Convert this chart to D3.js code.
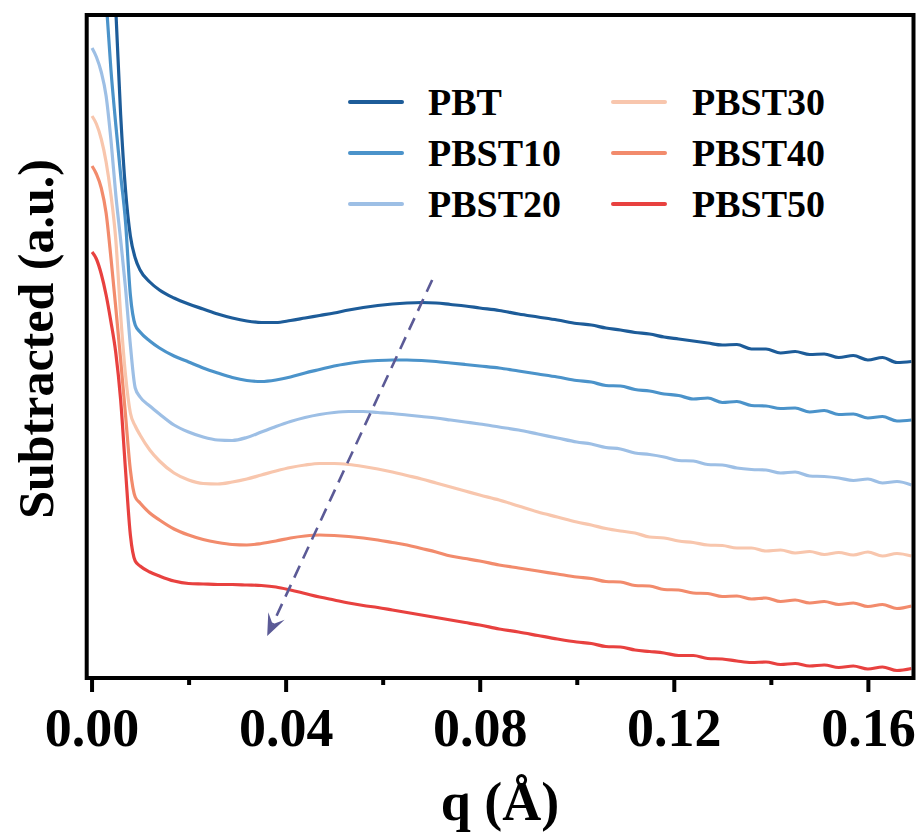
<!DOCTYPE html>
<html>
<head>
<meta charset="utf-8">
<script src="https://cdn.jsdelivr.net/npm/d3@7"></script>
<style>
  html, body { margin: 0; padding: 0; background: #ffffff; }
  svg { display: block; }
  text { font-family: "Liberation Serif", "Times New Roman", serif; font-weight: bold; fill: #000; }
</style>
</head>
<body>
<div id="chart"></div>
<script>
// Scattering vector q (Å) shared by all profiles
const qValues = [
  0.0001, 0.001, 0.002, 0.003, 0.004, 0.005, 0.006, 0.007, 0.008, 0.009, 0.010,
  0.012, 0.014, 0.017,
  0.020, 0.023, 0.026, 0.029, 0.032, 0.035, 0.038, 0.041, 0.044, 0.047, 0.050,
  0.053, 0.056, 0.059, 0.062, 0.065, 0.068, 0.071, 0.074, 0.077, 0.080,
  0.084, 0.088, 0.092, 0.096, 0.100,
  0.103, 0.106, 0.109, 0.112, 0.115, 0.118, 0.121, 0.124, 0.127, 0.130, 0.133,
  0.136, 0.139, 0.142, 0.145, 0.148, 0.151, 0.154, 0.157, 0.160, 0.163, 0.166, 0.169
];

// Subtracted intensity (a.u., stacked profiles)
const iPBT = [
  11.48, 10.58, 9.58, 8.58, 7.58, 6.68, 5.63, 4.88, 4.42, 4.20, 4.08,
  3.96, 3.88, 3.80,
  3.74, 3.69, 3.64, 3.60, 3.57, 3.555, 3.555, 3.575, 3.60, 3.625, 3.65,
  3.68, 3.705, 3.725, 3.74, 3.75, 3.755, 3.75, 3.735, 3.72, 3.70,
  3.675, 3.64, 3.61, 3.58, 3.545,
  3.53, 3.50, 3.48, 3.455, 3.44, 3.41, 3.39, 3.37, 3.35, 3.33, 3.335,
  3.29, 3.29, 3.25, 3.265, 3.235, 3.24, 3.205, 3.225, 3.18, 3.205, 3.155, 3.165
];
const iPBST10 = [
  9.18, 8.38, 7.58, 6.78, 6.08, 5.53, 5.03, 4.56, 3.83, 3.53, 3.46,
  3.37, 3.30, 3.22,
  3.16, 3.10, 3.05, 3.005, 2.975, 2.965, 2.98, 3.01, 3.05, 3.085, 3.12,
  3.145, 3.165, 3.175, 3.18, 3.18, 3.175, 3.165, 3.15, 3.135, 3.12,
  3.10, 3.07, 3.04, 3.01, 2.975,
  2.96, 2.925, 2.92, 2.885, 2.87, 2.84, 2.825, 2.79, 2.80, 2.755, 2.765,
  2.725, 2.72, 2.695, 2.70, 2.66, 2.675, 2.635, 2.64, 2.60, 2.615, 2.57, 2.58
];
const iPBST20 = [
  6.30, 6.21, 6.06, 5.82, 5.38, 4.83, 4.38, 3.90, 3.33, 2.90, 2.81,
  2.72, 2.64, 2.53,
  2.46, 2.41, 2.38, 2.375, 2.405, 2.46, 2.515, 2.565, 2.605, 2.635, 2.655,
  2.665, 2.665, 2.655, 2.645, 2.63, 2.615, 2.60, 2.58, 2.56, 2.54,
  2.51, 2.48, 2.44, 2.40, 2.36,
  2.34, 2.305, 2.29, 2.25, 2.235, 2.21, 2.175, 2.17, 2.135, 2.13, 2.10,
  2.085, 2.08, 2.05, 2.06, 2.02, 2.015, 2.00, 1.975, 1.99, 1.95, 1.965, 1.93
];
const iPBST30 = [
  5.62, 5.54, 5.39, 5.16, 4.83, 4.38, 3.63, 3.03, 2.65, 2.52, 2.43,
  2.28, 2.17, 2.05,
  1.98, 1.945, 1.94, 1.96, 1.99, 2.03, 2.07, 2.105, 2.13, 2.145, 2.145,
  2.135, 2.115, 2.09, 2.06, 2.025, 1.99, 1.95, 1.91, 1.87, 1.83,
  1.78, 1.72, 1.66, 1.61, 1.56,
  1.53, 1.495, 1.47, 1.45, 1.41, 1.40, 1.37, 1.355, 1.33, 1.325, 1.30,
  1.30, 1.27, 1.28, 1.25, 1.265, 1.235, 1.255, 1.23, 1.26, 1.22, 1.245, 1.22
];
const iPBST40 = [
  5.12, 5.04, 4.90, 4.65, 4.20, 3.70, 3.18, 2.63, 2.08, 1.81, 1.75,
  1.65, 1.58, 1.49,
  1.43, 1.385, 1.355, 1.335, 1.33, 1.345, 1.37, 1.40, 1.42, 1.43, 1.425,
  1.415, 1.40, 1.38, 1.355, 1.33, 1.295, 1.26, 1.22, 1.195, 1.17,
  1.13, 1.10, 1.07, 1.04, 1.01,
  0.995, 0.965, 0.96, 0.925, 0.92, 0.885, 0.88, 0.85, 0.845, 0.815, 0.82,
  0.79, 0.80, 0.765, 0.78, 0.75, 0.765, 0.735, 0.75, 0.715, 0.735, 0.695, 0.72
];
const iPBST50 = [
  4.26, 4.19, 4.04, 3.83, 3.56, 3.25, 2.78, 2.08, 1.43, 1.17, 1.12,
  1.06, 1.02, 0.97,
  0.945, 0.94, 0.935, 0.935, 0.93, 0.925, 0.91, 0.88, 0.845, 0.81, 0.78,
  0.75, 0.725, 0.705, 0.68, 0.655, 0.63, 0.605, 0.58, 0.555, 0.53,
  0.49, 0.46, 0.425, 0.39, 0.36,
  0.345, 0.315, 0.31, 0.28, 0.265, 0.25, 0.225, 0.225, 0.195, 0.19, 0.17,
  0.155, 0.16, 0.135, 0.145, 0.12, 0.13, 0.105, 0.12, 0.09, 0.11, 0.075, 0.095
];

const seriesNames = ["PBT", "PBST10", "PBST20", "PBST30", "PBST40", "PBST50"];
const seriesValues = [iPBT, iPBST10, iPBST20, iPBST30, iPBST40, iPBST50];
const seriesColors = ["#1d5c99", "#4b93ca", "#9dbfe5", "#f8c6ad", "#f28b6c", "#e8413f"];

// Tick labels on the q axis
const majorTicks = [0.00, 0.04, 0.08, 0.12, 0.16];
const minorTicks = [0.02, 0.06, 0.10, 0.14];

// Trend arrow (q, intensity): tail then head
const trendArrow = [[0.0702, 3.98], [0.0362, 0.42]];

(function draw() {
  const W = 919, H = 834;
  const pLeft = 86.7, pRight = 913.5, pTop = 15, pBottom = 678;

  const svg = d3.select("#chart").append("svg")
    .attr("width", W).attr("height", H);

  const x = d3.scaleLinear().domain([-0.001, 0.1694]).range([pLeft, pRight]);
  const y = d3.scaleLinear().domain([0, 6.63]).range([pBottom, pTop]);

  svg.append("defs").append("clipPath").attr("id", "plotClip")
    .append("rect")
    .attr("x", pLeft + 2).attr("y", pTop + 2)
    .attr("width", pRight - pLeft - 4).attr("height", pBottom - pTop - 4);

  // Profiles
  const line = d3.line()
    .x((d, i) => x(qValues[i]))
    .y(d => y(d))
    .curve(d3.curveMonotoneX);

  const plot = svg.append("g").attr("clip-path", "url(#plotClip)");
  seriesValues.forEach((vals, k) => {
    plot.append("path")
      .datum(vals)
      .attr("d", line)
      .attr("fill", "none")
      .attr("stroke", seriesColors[k])
      .attr("stroke-width", 3.2)
      .attr("stroke-linejoin", "round");
  });

  // Dashed trend arrow
  const arrowColor = "#5b5a96";
  const [a0, a1] = trendArrow.map(p => [x(p[0]), y(p[1])]);
  const ang = Math.atan2(a1[1] - a0[1], a1[0] - a0[0]);
  const headLen = 22, headHalf = 9, notch = 13;
  const cx = Math.cos(ang), cy = Math.sin(ang);
  const backX = a1[0] - headLen * cx, backY = a1[1] - headLen * cy;
  const px = -cy, py = cx;
  svg.append("line")
    .attr("x1", a0[0]).attr("y1", a0[1])
    .attr("x2", a1[0] - notch * cx).attr("y2", a1[1] - notch * cy)
    .attr("stroke", arrowColor).attr("stroke-width", 2.6)
    .attr("stroke-dasharray", "13,8");
  svg.append("path")
    .attr("d", `M${a1[0]},${a1[1]}
      L${backX + px * headHalf},${backY + py * headHalf}
      L${a1[0] - notch * cx},${a1[1] - notch * cy}
      L${backX - px * headHalf},${backY - py * headHalf} Z`)
    .attr("fill", arrowColor);

  // Frame
  svg.append("rect")
    .attr("x", pLeft).attr("y", pTop)
    .attr("width", pRight - pLeft).attr("height", pBottom - pTop)
    .attr("fill", "none").attr("stroke", "#000").attr("stroke-width", 4);

  // Bottom axis
  const xAxis = d3.axisBottom(x)
    .tickValues(majorTicks)
    .tickFormat(d3.format(".2f"))
    .tickSize(14).tickPadding(10);
  const gx = svg.append("g").attr("transform", `translate(0,${pBottom})`).call(xAxis);
  gx.select(".domain").remove();
  gx.selectAll(".tick line").attr("stroke", "#000").attr("stroke-width", 4);
  gx.selectAll(".tick text")
    .attr("font-family", "Liberation Serif, Times New Roman, serif")
    .attr("font-weight", "bold")
    .attr("font-size", 54)
    .attr("fill", "#000")
    .attr("dy", null)
    .attr("y", 68);

  const gMinor = d3.axisBottom(x).tickValues(minorTicks).tickSize(7).tickFormat("");
  const gm = svg.append("g").attr("transform", `translate(0,${pBottom})`).call(gMinor);
  gm.select(".domain").remove();
  gm.selectAll(".tick line").attr("stroke", "#000").attr("stroke-width", 4);

  // Axis titles
  svg.append("text")
    .attr("x", 500).attr("y", 820)
    .attr("text-anchor", "middle")
    .attr("font-size", 54)
    .text("q (Å)");

  svg.append("text")
    .attr("transform", "translate(53,339) rotate(-90)")
    .attr("text-anchor", "middle")
    .attr("font-size", 50)
    .text("Subtracted (a.u.)");

  // Legend
  const legendCols = [{ lx: 350, tx: 428 }, { lx: 613, tx: 692 }];
  const legendRows = [102, 153, 204];
  seriesNames.forEach((name, k) => {
    const col = legendCols[Math.floor(k / 3)];
    const rowY = legendRows[k % 3];
    svg.append("line")
      .attr("x1", col.lx).attr("x2", col.lx + 52)
      .attr("y1", rowY).attr("y2", rowY)
      .attr("stroke", seriesColors[k]).attr("stroke-width", 4)
      .attr("stroke-linecap", "round");
    svg.append("text")
      .attr("x", col.tx).attr("y", rowY + 13)
      .attr("font-size", 38)
      .text(name);
  });
})();
</script>
</body>
</html>
